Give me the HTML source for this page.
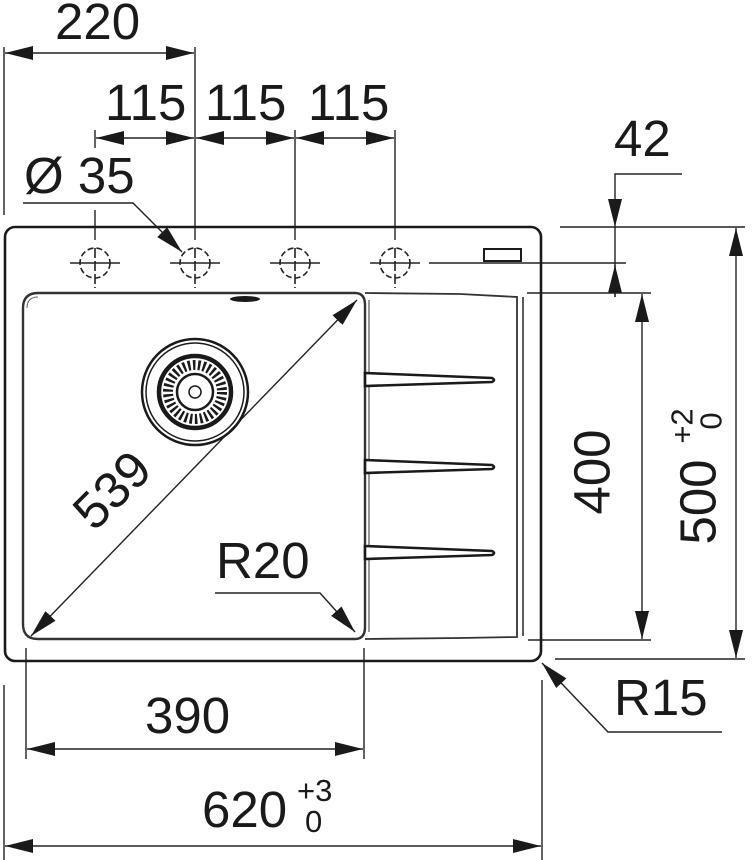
<!DOCTYPE html>
<html><head><meta charset="utf-8"><style>html,body{margin:0;padding:0;background:#fff}svg{display:block}text{font-family:"Liberation Sans",sans-serif;fill:#1a1a1a}</style></head>
<body>
<svg width="752" height="860" viewBox="0 0 752 860" xmlns="http://www.w3.org/2000/svg">
<defs>
<marker id="a" markerUnits="userSpaceOnUse" markerWidth="30" markerHeight="16" refX="28" refY="7" orient="auto-start-reverse" viewBox="0 0 30 14">
<path d="M0,0 L28,7 L0,14 Z" fill="#1a1a1a"/>
</marker>
</defs>
<g stroke="#222" stroke-width="1.4" fill="none">
<line x1="4" y1="47" x2="4" y2="215"/>
<line x1="195" y1="47" x2="195" y2="240"/>
<line x1="5" y1="53" x2="194" y2="53" marker-start="url(#a)" marker-end="url(#a)"/>
<line x1="95" y1="130" x2="95" y2="148"/>
<line x1="95" y1="210" x2="95" y2="240"/>
<line x1="295" y1="130" x2="295" y2="240"/>
<line x1="395" y1="130" x2="395" y2="240"/>
<line x1="96" y1="138" x2="194" y2="138" marker-start="url(#a)" marker-end="url(#a)"/>
<line x1="196" y1="138" x2="294" y2="138" marker-start="url(#a)" marker-end="url(#a)"/>
<line x1="296" y1="138" x2="394" y2="138" marker-start="url(#a)" marker-end="url(#a)"/>
<polyline points="23,203 133,203 182,252" marker-end="url(#a)"/>
<polyline points="682,174 615,174 615,227" marker-end="url(#a)"/>
<line x1="615" y1="227" x2="615" y2="297"/>
<line x1="615" y1="297" x2="615" y2="265" marker-end="url(#a)"/>
<line x1="560" y1="227" x2="745" y2="227"/>
<line x1="429" y1="263" x2="626" y2="263"/>
<line x1="527" y1="293" x2="651" y2="293"/>
<line x1="642" y1="294" x2="642" y2="639" marker-start="url(#a)" marker-end="url(#a)"/>
<line x1="528" y1="640" x2="651" y2="640"/>
<line x1="736" y1="228" x2="736" y2="658" marker-start="url(#a)" marker-end="url(#a)"/>
<line x1="555" y1="659" x2="745" y2="659"/>
<polyline points="722,732 608,732 542,663" marker-end="url(#a)"/>
<polyline points="215,593 320,593 355,632" marker-end="url(#a)"/>
<line x1="31" y1="636" x2="357" y2="300" marker-start="url(#a)" marker-end="url(#a)"/>
<line x1="26" y1="648" x2="26" y2="759"/>
<line x1="364" y1="648" x2="364" y2="759"/>
<line x1="27" y1="749" x2="363" y2="749" marker-start="url(#a)" marker-end="url(#a)"/>
<line x1="4" y1="685" x2="4" y2="860"/>
<line x1="542" y1="680" x2="542" y2="860"/>
<line x1="5" y1="846" x2="541" y2="846" marker-start="url(#a)" marker-end="url(#a)"/>
</g>
<rect x="5" y="227" width="536" height="434" rx="10" fill="none" stroke="#1a1a1a" stroke-width="2.6"/>
<rect x="484" y="249" width="37" height="12" fill="none" stroke="#1a1a1a" stroke-width="2"/>
<g stroke="#222" stroke-width="1.6" fill="none">
<g id="h"><circle cx="95" cy="263" r="15" stroke-dasharray="6,3"/><line x1="70" y1="263" x2="120" y2="263"/><line x1="95" y1="248" x2="95" y2="288" stroke-dasharray="10,3"/></g>
<use href="#h" x="100"/><use href="#h" x="200"/><use href="#h" x="300"/>
</g>
<path d="M365,305 Q365,293 355,293 L38,293 Q23,293 23,308 L23,624 Q23,639 38,639 L355,639 Q365,639 365,627 Z" fill="none" stroke="#333" stroke-width="2.4"/>
<path d="M27,308 Q27,297 38,297" fill="none" stroke="#666" stroke-width="1"/>
<ellipse cx="245" cy="299" rx="15" ry="3" fill="#1a1a1a"/>
<path d="M365,293 L460,294 L517,297 L517,637 L460,638 L365,639" fill="none" stroke="#333" stroke-width="1.8"/>
<line x1="523" y1="297" x2="523" y2="636" stroke="#333" stroke-width="1.6"/>
<line x1="369" y1="300" x2="369" y2="632" stroke="#555" stroke-width="1.2"/>
<g fill="#fff" stroke="#1a1a1a" stroke-width="2.6">
<path d="M365,373 L492,378 Q496,380 492,382 L365,386 Z"/>
<path d="M365,460 L492,465 Q496,467 492,469 L365,473 Z"/>
<path d="M365,546 L492,551 Q496,553 492,555 L365,559 Z"/>
</g>
<g fill="none" stroke="#1a1a1a">
<circle cx="195" cy="392" r="53" stroke-width="2.5"/>
<circle cx="195" cy="392" r="49" stroke-width="1.5"/>
<circle cx="195" cy="392" r="36" stroke-width="4.5"/>
<circle cx="195" cy="392" r="27" stroke-width="10" stroke-dasharray="2.5,2.5"/>
<circle cx="195" cy="392" r="18" stroke-width="2.5"/>
<circle cx="195" cy="392" r="6" stroke-width="1.5"/>
</g>
<g font-size="51">
<text x="55" y="39">220</text>
<text x="105" y="120">115</text>
<text x="205" y="120">115</text>
<text x="308" y="120">115</text>
<text x="24" y="193">Ø 35</text>
<text x="614" y="156">42</text>
<text x="145" y="733">390</text>
<text x="202" y="827">620</text>
<text x="216" y="578">R20</text>
<text x="614" y="715">R15</text>
<text x="0" y="0" text-anchor="middle" dominant-baseline="central" transform="translate(592,472) rotate(-90)">400</text>
<text x="0" y="0" text-anchor="middle" dominant-baseline="central" transform="translate(698,502) rotate(-90)">500</text>
<text x="0" y="0" text-anchor="middle" dominant-baseline="central" transform="translate(112,490) rotate(-45)">539</text>
</g>
<g font-size="31">
<text x="297" y="801">+3</text>
<text x="305" y="832">0</text>
<text x="0" y="0" text-anchor="middle" dominant-baseline="central" transform="translate(682,426) rotate(-90)">+2</text>
<text x="0" y="0" text-anchor="middle" dominant-baseline="central" transform="translate(711,421) rotate(-90)">0</text>
</g>
</svg>
</body></html>
